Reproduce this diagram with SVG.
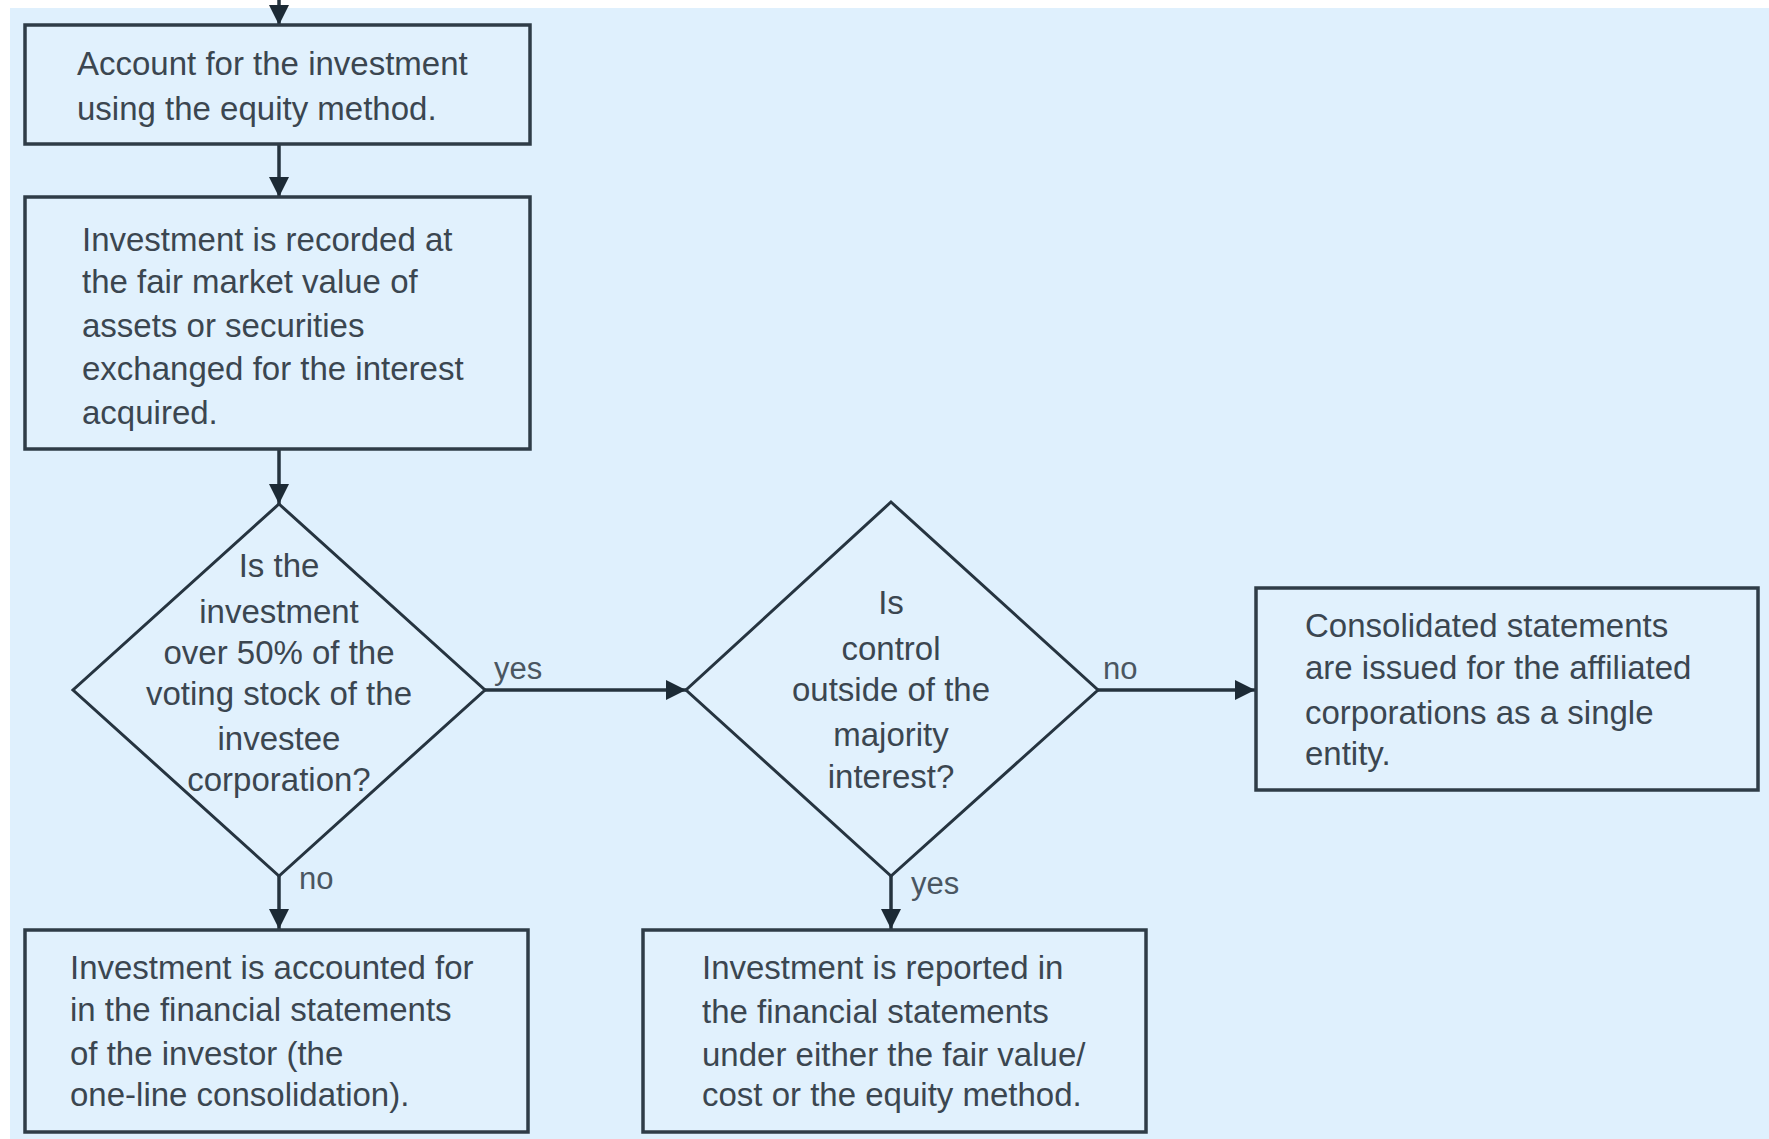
<svg xmlns="http://www.w3.org/2000/svg" width="1769" height="1139" viewBox="0 0 1769 1139">
<defs>
<marker id="ah" viewBox="0 0 20 20" refX="20" refY="10" markerWidth="20" markerHeight="20" markerUnits="userSpaceOnUse" orient="auto">
<path d="M0,0 L20,10 L0,20 Z" fill="#1c2a35"/>
</marker>
<style>
.box{fill:#e1f1fd;stroke:#2f3c47;stroke-width:3.5}
.dia{fill:#e1f1fd;stroke:#263440;stroke-width:3}
.t{font-family:"Liberation Sans",Arial,sans-serif;font-size:33px;fill:#3b4650}
.c{text-anchor:middle}
.lbl{font-family:"Liberation Sans",Arial,sans-serif;font-size:31px;fill:#4a5661}
.ln{stroke:#25333e;stroke-width:3.5;fill:none;marker-end:url(#ah)}
</style>
</defs>
<rect x="0" y="0" width="1769" height="1139" fill="#ffffff"/>
<rect x="10" y="8" width="1759" height="1131" fill="#dff0fd"/>

<g id="connectors">
<line class="ln" x1="279" y1="0" x2="279" y2="25"/>
<line class="ln" x1="279" y1="144" x2="279" y2="197"/>
<line class="ln" x1="279" y1="449" x2="279" y2="504"/>
<line class="ln" x1="485" y1="690" x2="686" y2="690"/>
<line class="ln" x1="1098" y1="690" x2="1255" y2="690"/>
<line class="ln" x1="279" y1="876" x2="279" y2="929"/>
<line class="ln" x1="891" y1="876" x2="891" y2="929"/>
<text class="lbl" x="494" y="679">yes</text>
<text class="lbl" x="1103" y="679">no</text>
<text class="lbl" x="299" y="889">no</text>
<text class="lbl" x="911" y="894">yes</text>
</g>

<g id="box1">
<rect class="box" x="25" y="25" width="505" height="119"/>
<text class="t" x="77" y="75">Account for the investment</text>
<text class="t" x="77" y="120">using the equity method.</text>
</g>

<g id="box2">
<rect class="box" x="25" y="197" width="505" height="252"/>
<text class="t" x="82" y="251">Investment is recorded at</text>
<text class="t" x="82" y="293">the fair market value of</text>
<text class="t" x="82" y="337">assets or securities</text>
<text class="t" x="82" y="380">exchanged for the interest</text>
<text class="t" x="82" y="424">acquired.</text>
</g>

<g id="decision1">
<polygon class="dia" points="279,504 485,690 279,876 73,690"/>
<text class="t c" x="279" y="577">Is the</text>
<text class="t c" x="279" y="623">investment</text>
<text class="t c" x="279" y="664">over 50% of the</text>
<text class="t c" x="279" y="705">voting stock of the</text>
<text class="t c" x="279" y="750">investee</text>
<text class="t c" x="279" y="791">corporation?</text>
</g>

<g id="decision2">
<polygon class="dia" points="891,502 1098,690 891,876 686,690"/>
<text class="t c" x="891" y="614">Is</text>
<text class="t c" x="891" y="660">control</text>
<text class="t c" x="891" y="701">outside of the</text>
<text class="t c" x="891" y="746">majority</text>
<text class="t c" x="891" y="788">interest?</text>
</g>

<g id="box3">
<rect class="box" x="1256" y="588" width="502" height="202"/>
<text class="t" x="1305" y="637">Consolidated statements</text>
<text class="t" x="1305" y="679">are issued for the affiliated</text>
<text class="t" x="1305" y="724">corporations as a single</text>
<text class="t" x="1305" y="765">entity.</text>
</g>

<g id="box4">
<rect class="box" x="25" y="930" width="503" height="202"/>
<text class="t" x="70" y="979">Investment is accounted for</text>
<text class="t" x="70" y="1021">in the financial statements</text>
<text class="t" x="70" y="1065">of the investor (the</text>
<text class="t" x="70" y="1106">one-line consolidation).</text>
</g>

<g id="box5">
<rect class="box" x="643" y="930" width="503" height="202"/>
<text class="t" x="702" y="979">Investment is reported in</text>
<text class="t" x="702" y="1023">the financial statements</text>
<text class="t" x="702" y="1066">under either the fair value/</text>
<text class="t" x="702" y="1106">cost or the equity method.</text>
</g>
</svg>
